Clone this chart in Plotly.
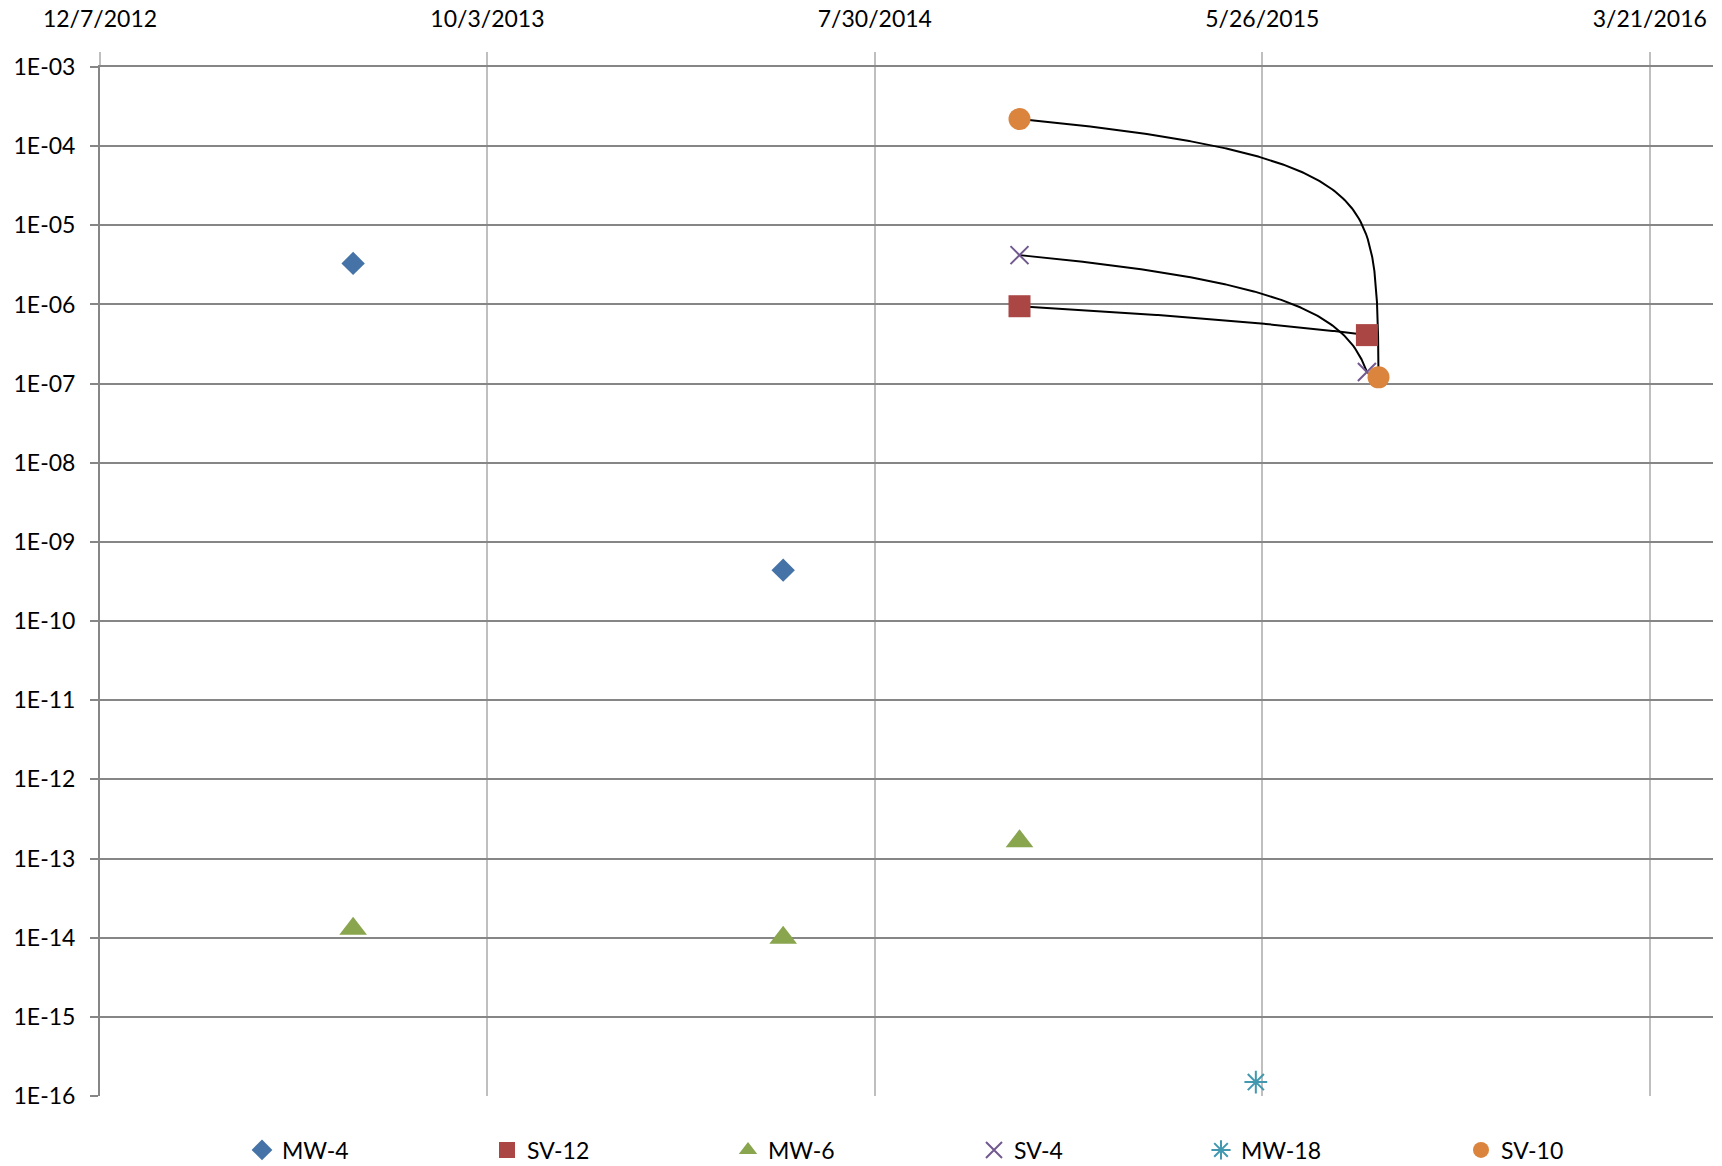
import numpy as np
import pandas as pd
import plotly.graph_objects as go

# ---- data ----
mw4_dates = ["2013-06-21", "2014-05-20"]
mw4_vals = [3.3e-6, 4.4e-10]

sv12_dates = ["2014-11-19", "2015-08-15"]
sv12_vals = [9.5e-7, 4.1e-7]

mw6_dates = ["2013-06-21", "2014-05-20", "2014-11-19"]
mw6_vals = [1.3e-14, 1.0e-14, 1.65e-13]

sv4_dates = ["2014-11-19", "2015-08-15"]
sv4_vals = [4.2e-6, 1.4e-7]

mw18_dates = ["2015-05-21"]
mw18_vals = [1.5e-16]

sv10_dates = ["2014-11-19", "2015-08-24"]
sv10_vals = [2.2e-4, 1.2e-7]

x_tick_dates = ["2012-12-07", "2013-10-03", "2014-07-30", "2015-05-26", "2016-03-21"]
x_tick_text = ["12/7/2012", "10/3/2013", "7/30/2014", "5/26/2015", "3/21/2016"]
y_tick_vals = [1e-3, 1e-4, 1e-5, 1e-6, 1e-7, 1e-8, 1e-9, 1e-10, 1e-11, 1e-12, 1e-13, 1e-14, 1e-15, 1e-16]
y_tick_text = ["1E-03", "1E-04", "1E-05", "1E-06", "1E-07", "1E-08", "1E-09", "1E-10",
               "1E-11", "1E-12", "1E-13", "1E-14", "1E-15", "1E-16"]

FONT = "Lato"
W, H = 1722, 1166

fig = go.Figure()


def connector(dates, vals):
    # Excel draws the series line in linear value space; on a log axis that
    # straight segment appears curved.  Render it the same way.
    d = pd.to_datetime(dates).astype("int64").to_numpy().astype(float)
    v = np.asarray(vals, dtype=float)
    t = np.concatenate([np.linspace(0, 0.98, 200), np.linspace(0.98, 1, 200)[1:]])
    xs = pd.to_datetime(d[0] + (d[1] - d[0]) * t)
    ys = v[0] + (v[1] - v[0]) * t
    return xs, ys


for dts, vls in [(sv12_dates, sv12_vals), (sv4_dates, sv4_vals), (sv10_dates, sv10_vals)]:
    xs, ys = connector(dts, vls)
    fig.add_trace(go.Scatter(x=xs, y=ys, mode="lines", line=dict(color="black", width=2),
                             showlegend=False, hoverinfo="skip"))

series = [
    ("MW-4", mw4_dates, mw4_vals, dict(symbol="diamond", size=18, color="#4572A7")),
    ("SV-12", sv12_dates, sv12_vals, dict(symbol="square", size=22, color="#AA4643")),
    ("MW-6", mw6_dates, mw6_vals, dict(symbol="triangle-up", size=24, color="#89A54E")),
    ("SV-4", sv4_dates, sv4_vals, dict(symbol="x-thin-open", size=18, color="#71588F",
                                       line=dict(width=2, color="#71588F"))),
    ("MW-18", mw18_dates, mw18_vals, dict(symbol="asterisk-open", size=19, color="#4198AF",
                                         line=dict(width=2, color="#4198AF"))),
    ("SV-10", sv10_dates, sv10_vals, dict(symbol="circle", size=22, color="#DB843D")),
]
# legend marker centres (px, from the reference)
legend_marker_x = [262, 507, 748, 994, 1221, 1481]

legend_layouts = {}
for i, ((name, dts, vls, mk), mx) in enumerate(zip(series, legend_marker_x)):
    lname = "legend" if i == 0 else f"legend{i + 1}"
    fig.add_trace(go.Scatter(x=dts, y=vls, mode="markers", name=name, marker=mk,
                             legend=lname))
    legend_layouts[lname] = dict(
        orientation="h", xref="container", yref="container",
        x=(mx - 20) / W, xanchor="left", y=1 - 1150 / H, yanchor="middle",
        itemwidth=30, font=dict(family=FONT, size=23, color="black"),
        bgcolor="rgba(0,0,0,0)", borderwidth=0)

fig.update_layout(
    width=W, height=H,
    paper_bgcolor="white", plot_bgcolor="white",
    margin=dict(l=100, r=9, t=67, b=70, autoexpand=False),
    font=dict(family=FONT, size=23, color="black"),
    showlegend=True,
    xaxis=dict(type="date", side="top", range=["2012-12-07", "2016-05-09"],
               tickvals=x_tick_dates, ticktext=x_tick_text, automargin=False,
               showgrid=True, gridcolor="#BFBFBF", gridwidth=2,
               showline=True, linecolor="#868686", linewidth=2,
               ticks="outside", ticklen=13, tickcolor="#BFBFBF", tickwidth=2,
               ticklabelstandoff=16, zeroline=False,
               tickfont=dict(family=FONT, size=23, color="black")),
    yaxis=dict(type="log", range=[-16, -3], automargin=False,
               tickvals=y_tick_vals, ticktext=y_tick_text,
               showgrid=True, gridcolor="#868686", gridwidth=2,
               showline=True, linecolor="#868686", linewidth=2,
               ticks="outside", ticklen=8, tickcolor="#868686", tickwidth=2,
               ticklabelstandoff=10, zeroline=False,
               tickfont=dict(family=FONT, size=23, color="black")),
    **legend_layouts,
)

fig.write_html("out.html",
               config={"displayModeBar": False},
               post_script="document.body.style.margin='0';"
                           "document.body.style.overflow='hidden';")
